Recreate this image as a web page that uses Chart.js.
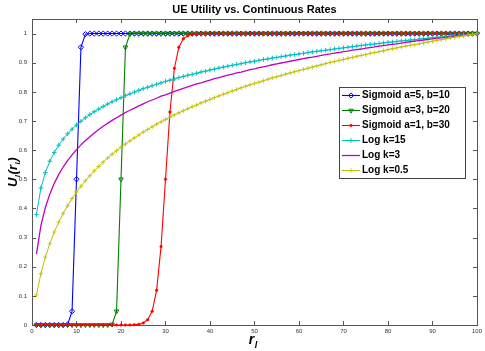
<!DOCTYPE html>
<html><head><meta charset="utf-8">
<script src="https://cdn.jsdelivr.net/npm/chart.js@4"></script>
<style>html,body{margin:0;padding:0;background:#fff}#wrap{position:relative;width:485px;height:351px}</style>
</head><body><div id="wrap"><canvas id="c" width="485" height="351"></canvas></div>
<script>
const chartTitle = 'UE Utility vs. Continuous Rates';
const seriesLabels = ['Sigmoid a=5, b=10','Sigmoid a=3, b=20','Sigmoid a=1, b=30','Log k=15','Log k=3','Log k=0.5'];
const rates = [1,2,3,4,5,6,7,8,9,10,11,12,13,14,15,16,17,18,19,20,21,22,23,24,25,26,27,28,29,30,31,32,33,34,35,36,37,38,39,40,41,42,43,44,45,46,47,48,49,50,51,52,53,54,55,56,57,58,59,60,61,62,63,64,65,66,67,68,69,70,71,72,73,74,75,76,77,78,79,80,81,82,83,84,85,86,87,88,89,90,91,92,93,94,95,96,97,98,99,100];
const sigA5B10 = [0,0,0,0,0,0,0,0.002,0.047,0.5,
 0.953,0.998,1,1,1,1,1,1,1,1,
 1,1,1,1,1,1,1,1,1,1, 1,1,1,1,1,1,1,1,1,1, 1,1,1,1,1,1,1,1,1,1, 1,1,1,1,1,1,1,1,1,1,
 1,1,1,1,1,1,1,1,1,1, 1,1,1,1,1,1,1,1,1,1, 1,1,1,1,1,1,1,1,1,1, 1,1,1,1,1,1,1,1,1,1];
const sigA3B20 = [0,0,0,0,0,0,0,0,0,0,
 0,0,0,0,0,0,0,0.002,0.047,0.5,
 0.953,0.998,1,1,1,1,1,1,1,1,
 1,1,1,1,1,1,1,1,1,1, 1,1,1,1,1,1,1,1,1,1, 1,1,1,1,1,1,1,1,1,1, 1,1,1,1,1,1,1,1,1,1,
 1,1,1,1,1,1,1,1,1,1, 1,1,1,1,1,1,1,1,1,1, 1,1,1,1,1,1,1,1,1,1];
const sigA1B30 = [0,0,0,0,0,0,0,0,0,0,
 0,0,0,0,0,0,0,0,0,0,
 0,0,0.001,0.002,0.007,0.018,0.047,0.119,0.269,0.5,
 0.731,0.881,0.953,0.982,0.993,0.998,0.999,1,1,1,
 1,1,1,1,1,1,1,1,1,1, 1,1,1,1,1,1,1,1,1,1, 1,1,1,1,1,1,1,1,1,1,
 1,1,1,1,1,1,1,1,1,1, 1,1,1,1,1,1,1,1,1,1, 1,1,1,1,1,1,1,1,1,1];
const logK15 = [0.379,0.470,0.523,0.562,0.592,0.617,0.638,0.656,0.672,0.686,
 0.699,0.711,0.722,0.732,0.741,0.750,0.758,0.766,0.773,0.780,
 0.787,0.793,0.799,0.805,0.811,0.816,0.821,0.826,0.831,0.836,
 0.840,0.844,0.849,0.853,0.857,0.860,0.864,0.868,0.871,0.875,
 0.878,0.882,0.885,0.888,0.891,0.894,0.897,0.900,0.903,0.905,
 0.908,0.911,0.913,0.916,0.918,0.921,0.923,0.926,0.928,0.930,
 0.932,0.935,0.937,0.939,0.941,0.943,0.945,0.947,0.949,0.951,
 0.953,0.955,0.957,0.959,0.961,0.963,0.964,0.966,0.968,0.970,
 0.971,0.973,0.975,0.976,0.978,0.979,0.981,0.983,0.984,0.986,
 0.987,0.989,0.990,0.992,0.993,0.994,0.996,0.997,0.999,1];
const logK3 = [0.243,0.341,0.403,0.449,0.486,0.516,0.542,0.564,0.584,0.602,
 0.618,0.633,0.646,0.659,0.671,0.682,0.692,0.702,0.711,0.720,
 0.729,0.737,0.744,0.752,0.759,0.766,0.772,0.778,0.785,0.790,
 0.796,0.802,0.807,0.812,0.817,0.822,0.827,0.831,0.836,0.840,
 0.845,0.849,0.853,0.857,0.861,0.865,0.868,0.872,0.876,0.879,
 0.883,0.886,0.889,0.893,0.896,0.899,0.902,0.905,0.908,0.911,
 0.914,0.917,0.919,0.922,0.925,0.928,0.930,0.933,0.935,0.938,
 0.940,0.943,0.945,0.947,0.950,0.952,0.954,0.957,0.959,0.961,
 0.963,0.965,0.967,0.970,0.972,0.974,0.976,0.978,0.980,0.982,
 0.984,0.985,0.987,0.989,0.991,0.993,0.995,0.996,0.998,1];
const logK05 = [0.103,0.176,0.233,0.279,0.319,0.353,0.383,0.409,0.434,0.456,
 0.476,0.495,0.512,0.529,0.544,0.559,0.573,0.586,0.598,0.610,
 0.621,0.632,0.642,0.652,0.662,0.671,0.680,0.689,0.697,0.705,
 0.713,0.721,0.728,0.735,0.742,0.749,0.755,0.762,0.768,0.774,
 0.780,0.786,0.792,0.797,0.803,0.808,0.814,0.819,0.824,0.829,
 0.833,0.838,0.843,0.848,0.852,0.856,0.861,0.865,0.869,0.873,
 0.877,0.881,0.885,0.889,0.893,0.897,0.901,0.904,0.908,0.911,
 0.915,0.918,0.922,0.925,0.928,0.932,0.935,0.938,0.941,0.945,
 0.948,0.951,0.954,0.957,0.960,0.962,0.965,0.968,0.971,0.974,
 0.977,0.979,0.982,0.985,0.987,0.990,0.992,0.995,0.997,1];
const xTicks = [0,10,20,30,40,50,60,70,80,90,100];
const yTicks = [0,0.1,0.2,0.3,0.4,0.5,0.6,0.7,0.8,0.9,1];

const seriesValues = [sigA5B10, sigA3B20, sigA1B30, logK15, logK3, logK05];
const styles = [
  {color:'#0000ff', pointStyle:'rectRot', radius:2.6, rot:0, bw:1, lw:1.1, fill:'rgba(255,255,255,0)'},
  {color:'#008000', pointStyle:'triangle', radius:2.6, rot:180, bw:1, lw:1.1, fill:'rgba(255,255,255,0)'},
  {color:'#ff0000', pointStyle:'circle', radius:1.3, rot:0, bw:0.5, lw:1.1, fill:'#ff0000'},
  {color:'#00bfbf', pointStyle:'cross', radius:2.3, rot:0, bw:1, lw:1, fill:'#00bfbf'},
  {color:'#c000c0', pointStyle:false, radius:0, rot:0, bw:1, lw:1.3, fill:'#c000c0'},
  {color:'#bfbf00', pointStyle:'cross', radius:2.3, rot:0, bw:0.8, lw:1, fill:'#bfbf00'}
];

const datasets = seriesValues.map((vals, i) => ({
  label: seriesLabels[i],
  data: rates.map((r, j) => ({x: r, y: vals[j]})),
  borderColor: styles[i].color,
  backgroundColor: styles[i].fill,
  borderWidth: styles[i].lw,
  pointStyle: styles[i].pointStyle,
  pointRadius: styles[i].radius,
  pointRotation: styles[i].rot,
  pointBorderWidth: styles[i].bw,
  pointBorderColor: styles[i].color,
  pointBackgroundColor: styles[i].fill,
  tension: 0,
  clip: false,
  order: 5 - i
}));

const FONT = "'Liberation Sans', Arial, Helvetica, sans-serif";

const matlabPlugin = {
  id: 'matlab',
  beforeDatasetsDraw(chart) {
    const ctx = chart.ctx, a = chart.chartArea;
    const xs = chart.scales.x, ys = chart.scales.y;
    ctx.save();
    ctx.strokeStyle = '#555';
    ctx.lineWidth = 1;
    ctx.strokeRect(Math.round(a.left) + 0.5, Math.round(a.top) + 0.5, Math.round(a.right - a.left), Math.round(a.bottom - a.top));
    ctx.beginPath();
    const tl = 4;
    xTicks.forEach(v => {
      const px = Math.round(xs.getPixelForValue(v)) + 0.5;
      ctx.moveTo(px, a.bottom); ctx.lineTo(px, a.bottom - tl);
      ctx.moveTo(px, a.top); ctx.lineTo(px, a.top + tl);
    });
    yTicks.forEach(v => {
      const py = Math.round(ys.getPixelForValue(v)) + 0.5;
      ctx.moveTo(a.left, py); ctx.lineTo(a.left + tl, py);
      ctx.moveTo(a.right, py); ctx.lineTo(a.right - tl, py);
    });
    ctx.stroke();
    ctx.restore();
  },
  afterDraw(chart) {
    const ctx = chart.ctx, a = chart.chartArea;
    ctx.save();
    // title
    ctx.fillStyle = '#000';
    ctx.font = 'bold 11px ' + FONT;
    ctx.textAlign = 'center';
    ctx.textBaseline = 'middle';
    ctx.fillText(chartTitle, (a.left + a.right) / 2, 10);
    // y label U_l(r_l)
    ctx.save();
    ctx.translate(17, (a.top + a.bottom) / 2);
    ctx.rotate(-Math.PI / 2);
    const big = 'bold italic 13px ' + FONT, small = 'bold italic 8px ' + FONT;
    const parts = [['U', big, 0], ['l', small, 3], ['(r', big, 0], ['l', small, 3], [')', big, 0]];
    let tw = 0;
    parts.forEach(p => { ctx.font = p[1]; tw += ctx.measureText(p[0]).width + 0.5; });
    let xx = -tw / 2;
    ctx.textAlign = 'left';
    ctx.textBaseline = 'alphabetic';
    parts.forEach(p => { ctx.font = p[1]; ctx.fillText(p[0], xx, p[2]); xx += ctx.measureText(p[0]).width + 0.5; });
    ctx.restore();
    // x label r_l
    ctx.textAlign = 'left';
    ctx.textBaseline = 'alphabetic';
    ctx.font = 'bold italic 14px ' + FONT;
    const rw = ctx.measureText('r').width;
    const cx = (a.left + a.right) / 2 - 3;
    ctx.fillText('r', cx - rw / 2, 344);
    ctx.font = 'bold italic 9px ' + FONT;
    ctx.fillText('l', cx + rw / 2 + 0.5, 348);
    // legend
    const lx = 339.5, ly = 87.5, lw = 126, lh = 91;
    ctx.fillStyle = '#fff';
    ctx.fillRect(lx, ly, lw, lh);
    ctx.strokeStyle = '#444';
    ctx.lineWidth = 1;
    ctx.strokeRect(lx, ly, lw, lh);
    chart.data.datasets.forEach((ds, i) => {
      const y = 95.5 + i * 15;
      ctx.strokeStyle = ds.borderColor;
      ctx.lineWidth = ds.borderWidth;
      ctx.beginPath(); ctx.moveTo(342, y); ctx.lineTo(360, y); ctx.stroke();
      if (ds.pointStyle) {
        ctx.fillStyle = ds.pointBackgroundColor;
        ctx.strokeStyle = ds.pointBorderColor;
        ctx.lineWidth = ds.pointBorderWidth;
        Chart.helpers.drawPoint(ctx, {pointStyle: ds.pointStyle, rotation: ds.pointRotation, radius: ds.pointRadius, borderWidth: ds.pointBorderWidth}, 351, y);
      }
      ctx.fillStyle = '#000';
      ctx.font = 'bold 10px ' + FONT;
      ctx.textBaseline = 'middle';
      ctx.fillText(ds.label, 362, y);
    });
    ctx.restore();
  }
};

new Chart(document.getElementById('c'), {
  type: 'line',
  data: { datasets },
  options: {
    responsive: false,
    animation: false,
    devicePixelRatio: 1,
    layout: { padding: { top: 19, right: 7, left: 0, bottom: 0 } },
    plugins: { legend: { display: false }, title: { display: false }, tooltip: { enabled: false } },
    scales: {
      x: {
        type: 'linear', min: 0, max: 100,
        afterBuildTicks: s => { s.ticks = xTicks.map(v => ({ value: v })); },
        afterFit: s => { s.height = 26; },
        grid: { display: false, drawTicks: false, tickLength: 0 },
        border: { display: false },
        ticks: { autoSkip: false, maxRotation: 0, padding: 3, color: '#333', font: { size: 6, family: FONT } }
      },
      y: {
        type: 'linear', min: 0, max: 1.05,
        afterBuildTicks: s => { s.ticks = yTicks.map(v => ({ value: v })); },
        afterFit: s => { s.width = 32; },
        grid: { display: false, drawTicks: false, tickLength: 0 },
        border: { display: false },
        ticks: { autoSkip: false, padding: 5, color: '#333', font: { size: 6, family: FONT }, callback: v => String(v) }
      }
    }
  },
  plugins: [matlabPlugin]
});
</script>
</body></html>
